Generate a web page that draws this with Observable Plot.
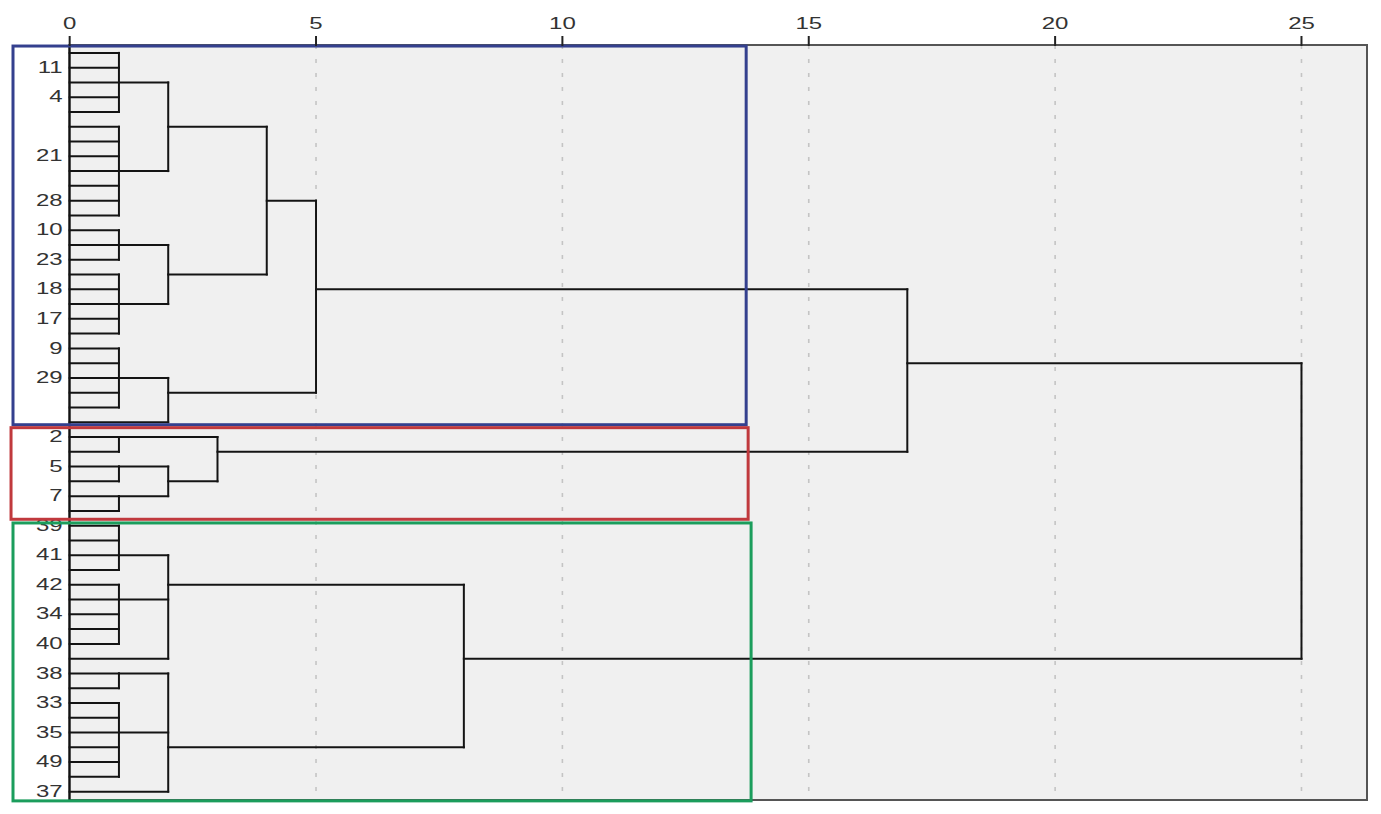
<!DOCTYPE html>
<html>
<head>
<meta charset="utf-8">
<script src="https://cdn.jsdelivr.net/npm/d3@7"></script>
<script src="https://cdn.jsdelivr.net/npm/@observablehq/plot@0.6"></script>
<style>
  body { margin: 0; background: #ffffff; }
  #chart svg { display: block; }
</style>
</head>
<body>
<div id="chart"></div>
<script>
// Leaf rows (top to bottom); only some rows carry a visible label
const rowLabels = ["", "11", "", "4", "", "", "", "21", "", "", "28", "", "10", "", "23", "", "18", "", "17", "", "9", "", "29", "", "", "", "2", "", "5", "", "7", "", "39", "", "41", "", "42", "", "34", "", "40", "", "38", "", "33", "", "35", "", "49", "", "37"];

// Internal merge nodes: children are leaf rows (numbers) or node names
const nodeNames    = ["A", "B", "AB", "C", "D", "CD", "ABCD", "E", "E2", "BLUE", "R1", "R2", "R3", "R23", "RED", "TOP", "F", "G", "FG", "H", "I", "HI", "GREEN", "ROOT"];
const nodeChildren = [
  [0, 1, 2, 3, 4],
  [5, 6, 7, 8, 9, 10, 11],
  ["A", "B"],
  [12, 13, 14],
  [15, 16, 17, 18, 19],
  ["C", "D"],
  ["AB", "CD"],
  [20, 21, 22, 23, 24],
  ["E", 25],
  ["ABCD", "E2"],
  [26, 27],
  [28, 29],
  [30, 31],
  ["R2", "R3"],
  ["R1", "R23"],
  ["BLUE", "RED"],
  [32, 33, 34, 35],
  [36, 37, 38, 39, 40],
  ["F", "G", 41],
  [42, 43],
  [44, 45, 46, 47, 48, 49],
  ["H", "I", 50],
  ["FG", "HI"],
  ["TOP", "GREEN"]
];
const nodeHeights  = [1, 1, 2, 1, 1, 2, 4, 1, 2, 5, 1, 1, 1, 2, 3, 17, 1, 1, 2, 1, 1, 2, 8, 25];
const nodeRows     = [2, 8, 5, 13, 17, 15, 10, 22, 23, 16, 26, 28, 30, 29, 27, 21, 34, 37, 36, 42, 46, 47, 41, 31];

// Axis ticks
const tickValues = [0, 5, 10, 15, 20, 25];
const gridValues = [5, 10, 15, 20, 25];

// Cluster annotation boxes (distance units / leaf rows)
const boxColors = ["#34408e", "#c0393d", "#1b9d5c"];
const boxX1 = [-1.14, -1.18, -1.14];
const boxX2 = [13.74, 13.78, 13.84];
const boxY1 = [-0.43, 25.4, 31.85];
const boxY2 = [25.2, 31.6, 50.66];

// ---- build marks data ----
const xMin = -1.14, xMax = 26.34, yMin = -0.5, yMax = 50.6;
const nodes = nodeNames.map((name, i) => ({name, children: nodeChildren[i], h: nodeHeights[i], row: nodeRows[i]}));
const nodeMap = new Map(nodes.map(n => [n.name, n]));
const rowOf = c => typeof c === "number" ? c : nodeMap.get(c).row;
const hOf = c => typeof c === "number" ? 0 : nodeMap.get(c).h;

const segs = [];
for (const n of nodes) {
  const rows = n.children.map(rowOf);
  segs.push({x1: n.h, x2: n.h, y1: d3.min(rows), y2: d3.max(rows)});
  for (const c of n.children) {
    segs.push({x1: hOf(c), x2: n.h, y1: rowOf(c), y2: rowOf(c)});
  }
}
const labels = rowLabels.map((label, row) => ({label, row})).filter(d => d.label !== "");
const boxes = boxColors.map((color, i) => ({color, x1: boxX1[i], x2: boxX2[i], y1: boxY1[i], y2: boxY2[i]}));

const FONT = "Liberation Sans, Arial, sans-serif";

const chart = Plot.plot({
  width: 1381,
  height: 814,
  marginTop: 45,
  marginBottom: 14,
  marginLeft: 13,
  marginRight: 14,
  style: {background: "#ffffff", color: "#333333", fontFamily: FONT},
  x: {domain: [xMin, xMax], axis: null},
  y: {domain: [yMin, yMax], reverse: true, axis: null},
  marks: [
    Plot.rect([0], {x1: 0, x2: xMax, y1: yMin, y2: yMax, fill: "#f0f0f0"}),
    Plot.ruleX(gridValues, {y1: yMin, y2: yMax, stroke: "#c4c4c4", strokeWidth: 1.6, strokeDasharray: "4,10"}),
    Plot.rect([0], {x1: 0, x2: xMax, y1: yMin, y2: yMax, fill: "none", stroke: "#555555", strokeWidth: 2}),
    Plot.ruleX([0], {y1: yMin, y2: yMax, stroke: "#111111", strokeWidth: 2}),
    Plot.link(segs, {x1: "x1", x2: "x2", y1: "y1", y2: "y2", stroke: "#141414", strokeWidth: 2, strokeLinecap: "square"}),
    Plot.text(labels, {x: 0, y: "row", text: "label", textAnchor: "end", dx: -7, fontSize: 16, fill: "#333333"}),
    Plot.rect(boxes, {x1: "x1", x2: "x2", y1: "y1", y2: "y2", fill: "none", stroke: "color", strokeWidth: 3}),
    Plot.axisX(tickValues, {anchor: "top", tickSize: 10, tickPadding: 7, fontSize: 16, strokeWidth: 2, stroke: "#222222", fill: "#333333"})
  ]
});

// Widen glyphs horizontally to mimic the stretched original
chart.querySelectorAll("text").forEach(t => {
  const tr = t.getAttribute("transform") || "";
  let tx = 0, ty = 0;
  const xa = t.getAttribute("x"), ya = t.getAttribute("y");
  if (xa !== null && xa !== "" && !isNaN(+xa)) { tx = +xa; t.removeAttribute("x"); }
  if (ya !== null && ya !== "" && !isNaN(+ya)) { ty = +ya; t.removeAttribute("y"); }
  t.setAttribute("transform", `${tr} translate(${tx},${ty}) scale(1.5,1)`);
});

document.getElementById("chart").appendChild(chart);
</script>
</body>
</html>
